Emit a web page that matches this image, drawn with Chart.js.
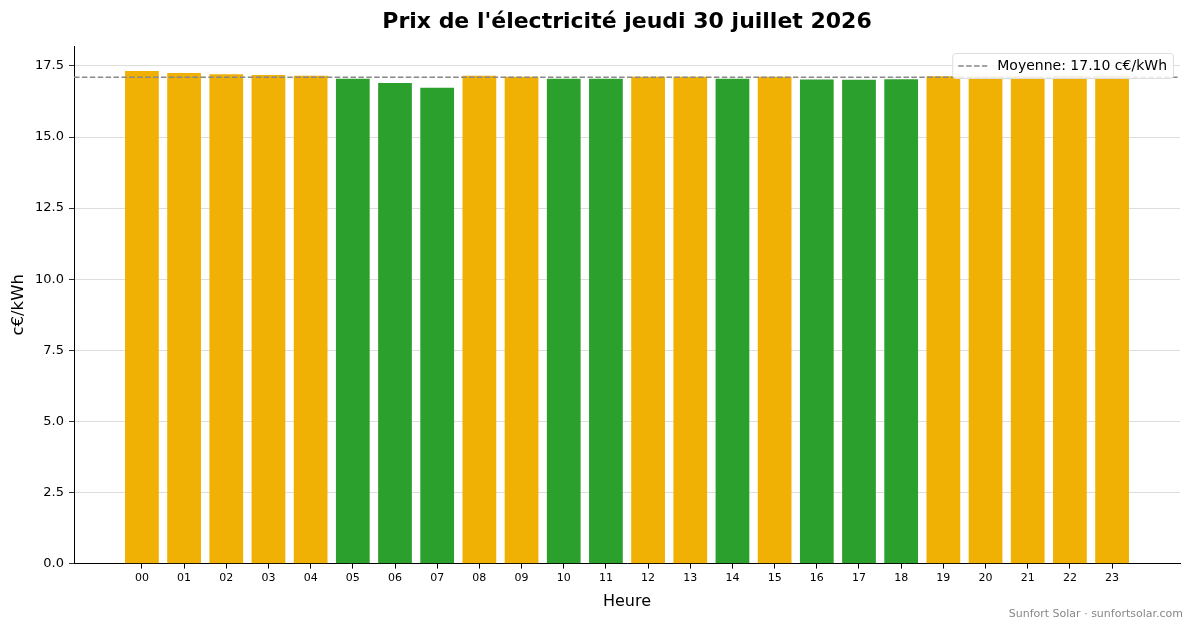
<!DOCTYPE html>
<html>
<head>
<meta charset="utf-8">
<script src="https://cdn.jsdelivr.net/npm/chart.js@4/dist/chart.umd.min.js"></script>
<style>
    body { margin: 0; background: #ffffff; }
    canvas { display: block; }
</style>
</head>
<body>
<canvas id="prix" width="1193" height="628"></canvas>
<script>
// Heures de la journée
const hours = ['00', '01', '02', '03', '04', '05', '06', '07', '08', '09', '10', '11',
               '12', '13', '14', '15', '16', '17', '18', '19', '20', '21', '22', '23'];
// Prix en c€/kWh
const prices = [17.32, 17.25, 17.21, 17.18, 17.15, 17.05, 16.90, 16.73, 17.15, 17.12, 17.05, 17.05,
                17.12, 17.12, 17.05, 17.12, 17.02, 17.01, 17.03, 17.14, 17.12, 17.13, 17.15, 17.15];
const meanPrice = 17.10;
const yTicks = [0, 2.5, 5, 7.5, 10, 12.5, 15, 17.5];

const colorHigh = '#f0b104';
const colorLow = '#2ca02c';

Chart.defaults.font.family = "'DejaVu Sans', sans-serif";
Chart.defaults.color = '#000000';

// légende dans le coin haut droit de la zone du graphique
const meanLegend = {
    id: 'meanLegend',
    afterDatasetsDraw(chart) {
        const ctx = chart.ctx;
        const area = chart.chartArea;
        const text = 'Moyenne: ' + meanPrice.toFixed(2) + ' c€/kWh';
        ctx.save();
        ctx.font = "14px 'DejaVu Sans', sans-serif";
        const w = ctx.measureText(text).width + 51;
        const h = 25;
        const x = area.right - 7 - w;
        const y = area.top + 7;
        ctx.fillStyle = 'rgba(255,255,255,0.85)';
        ctx.strokeStyle = '#dddddd';
        ctx.lineWidth = 1;
        ctx.beginPath();
        ctx.roundRect(x + 0.5, y + 0.5, w, h, 3);
        ctx.fill();
        ctx.stroke();
        ctx.strokeStyle = '#888888';
        ctx.lineWidth = 1.5;
        ctx.setLineDash([5.5, 2.4]);
        ctx.beginPath();
        ctx.moveTo(x + 6, y + h / 2 + 0.5);
        ctx.lineTo(x + 35, y + h / 2 + 0.5);
        ctx.stroke();
        ctx.setLineDash([]);
        ctx.fillStyle = '#000000';
        ctx.textBaseline = 'middle';
        ctx.fillText(text, x + 45, y + h / 2 + 1);
        ctx.restore();
    }
};

// signature en bas à droite
const footer = {
    id: 'footer',
    afterDraw(chart) {
        const ctx = chart.ctx;
        ctx.save();
        ctx.font = "11px 'DejaVu Sans', sans-serif";
        ctx.fillStyle = '#888888';
        ctx.textAlign = 'right';
        ctx.textBaseline = 'middle';
        ctx.fillText('Sunfort Solar · sunfortsolar.com', 1183, 614);
        ctx.restore();
    }
};

const canvas = document.getElementById('prix');
new Chart(canvas.getContext('2d'), {
    type: 'bar',
    data: {
        datasets: [
            {
                type: 'line',
                label: 'Moyenne',
                data: [{x: -1.61, y: meanPrice}, {x: 24.61, y: meanPrice}],
                borderColor: '#888888',
                borderWidth: 1.5,
                borderDash: [5.5, 2.4],
                pointRadius: 0,
                order: 0
            },
            {
                label: 'Prix',
                data: prices.map((v, i) => ({x: i, y: v})),
                backgroundColor: prices.map(v => v >= meanPrice ? colorHigh : colorLow),
                borderWidth: 0,
                barPercentage: 0.8,
                categoryPercentage: 1,
                order: 1
            }
        ]
    },
    options: {
        responsive: false,
        animation: false,
        layout: {
            padding: {left: 0, right: 13, top: 0, bottom: 17}
        },
        plugins: {
            legend: {display: false},
            tooltip: {enabled: false},
            title: {
                display: true,
                fullSize: false,
                text: "Prix de l'électricité jeudi 30 juillet 2026",
                font: {size: 22, weight: 'bold'},
                color: '#000000',
                padding: {top: 9, bottom: 10.6}
            }
        },
        scales: {
            x: {
                type: 'linear',
                min: -1.61,
                max: 24.61,
                offset: false,
                grid: {
                    offset: false,
                    drawOnChartArea: false,
                    drawTicks: true,
                    tickLength: 5,
                    tickColor: '#000000'
                },
                border: {color: '#000000', width: 1},
                afterBuildTicks: function(scale) {
                    scale.ticks = hours.map((h, i) => ({value: i}));
                },
                ticks: {
                    autoSkip: false,
                    maxRotation: 0,
                    padding: 3,
                    font: {size: 11},
                    color: '#000000',
                    callback: function(value) {
                        return hours[value];
                    }
                },
                title: {
                    display: true,
                    text: 'Heure',
                    font: {size: 16},
                    color: '#000000',
                    padding: {top: 4, bottom: 0}
                }
            },
            y: {
                min: 0,
                max: 18.2,
                grid: {
                    color: '#d4d4d4',
                    lineWidth: 0.8,
                    borderDash: [1, 2],
                    tickColor: '#000000',
                    tickLength: 5,
                    tickBorderDash: []
                },
                border: {color: '#000000', width: 1},
                afterBuildTicks: function(scale) {
                    scale.ticks = yTicks.map(v => ({value: v}));
                },
                afterFit: function(scale) {
                    scale.width = 74;
                },
                ticks: {
                    padding: 5,
                    font: {size: 13},
                    color: '#000000',
                    callback: function(value) {
                        return value.toFixed(1);
                    }
                },
                title: {
                    display: true,
                    text: 'c€/kWh',
                    font: {size: 16.5},
                    color: '#000000',
                    padding: {top: 8.5, bottom: 8.5}
                }
            }
        }
    },
    plugins: [meanLegend, footer]
});
</script>
</body>
</html>
